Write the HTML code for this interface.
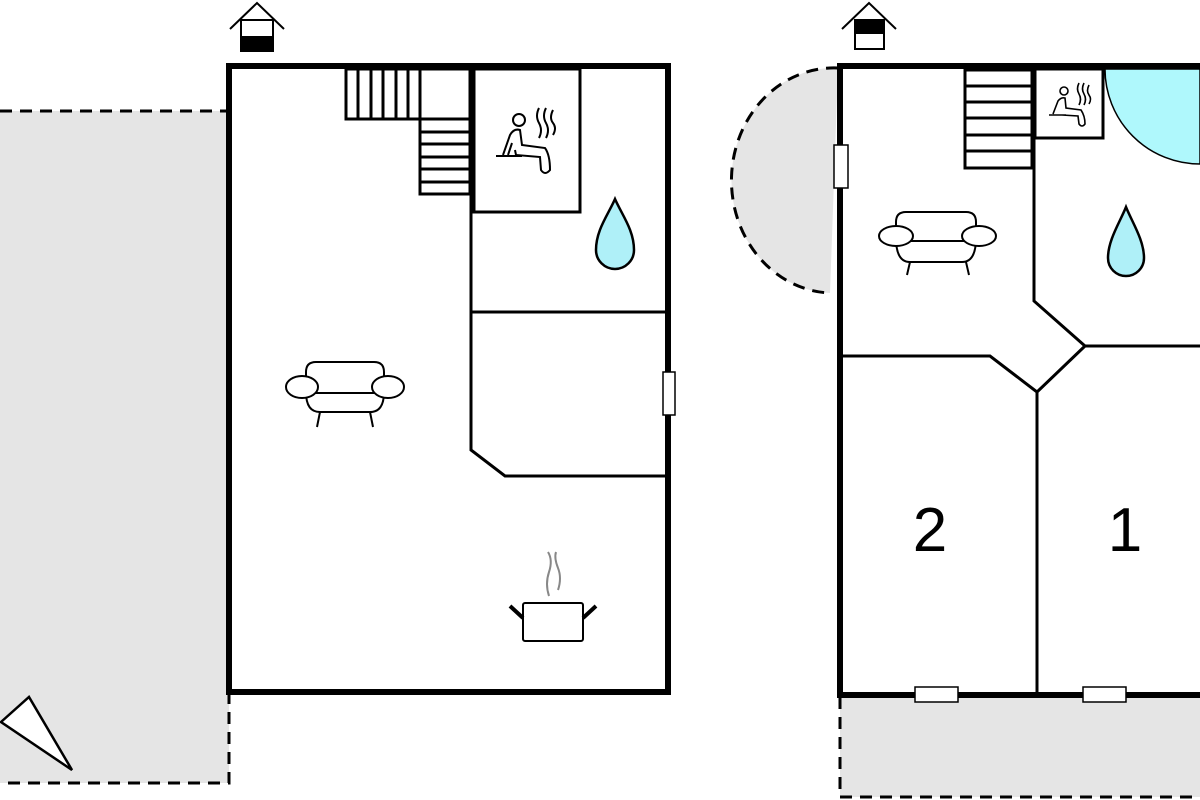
<!DOCTYPE html>
<html><head><style>body{margin:0;background:#fff}svg{display:block}</style></head><body>
<svg width="1200" height="800" viewBox="0 0 1200 800" xmlns="http://www.w3.org/2000/svg" font-family="Liberation Sans, sans-serif">
<rect x="0" y="111" width="229" height="672" fill="#e5e5e5"/>
<path d="M0 111H229M229 692V783H0" fill="none" stroke="#000" stroke-width="3" stroke-dasharray="12 8"/>
<polygon points="1,722 29,697 72,770" fill="#fff" stroke="#000" stroke-width="2.5"/>
<rect x="229" y="66" width="439" height="626" fill="#fff" stroke="#000" stroke-width="6"/>
<g stroke="#000" stroke-width="3" fill="none">
<rect x="346" y="69" width="124" height="50"/>
<path d="M358 69V119M371 69V119M383 69V119M396 69V119M408 69V119M420 69V119"/>
<rect x="420" y="119" width="50" height="75"/>
<path d="M420 132H470M420 144H470M420 157H470M420 169H470M420 182H470"/>
<path d="M471 66V450L505 476H668M471 312H668"/>
<rect x="474" y="69" width="106" height="143"/>
</g>
<rect x="663" y="372" width="12" height="43" fill="#fff" stroke="#000" stroke-width="1.5"/>
<g stroke="#000" stroke-width="2" fill="none"><path d="M230 29L257 3L284 29"/><rect x="241" y="20" width="32" height="31"/></g>
<rect x="241" y="36" width="32" height="15" fill="#000"/>
<g stroke="#000" stroke-width="2" fill="none">
<circle cx="519" cy="120" r="6"/>
<path d="M503 155L510 135Q514 128 520 130L522 145L545 148Q550 155 550 170Q545 176 541 170L540 157L516 155L515 150M496 156H522M508 155L512 143"/>
<path d="M539 108q-4 8 0 15t0 15M546 108q-4 8 0 15t0 15M553 110q-4 8 0 13t0 12"/>
</g>
<path d="M615 199C608 215 596 230 596 250A19 19 0 0 0 634 250C634 230 622 215 615 199Z" fill="#aff0f8" stroke="#000" stroke-width="2.5"/>
<g stroke="#000" stroke-width="2" fill="#fff">
<path d="M306 392V372Q306 362 316 362H374Q384 362 384 372V392Q384 412 370 412H320Q306 412 306 392Z"/>
<path d="M305 393H385"/>
<ellipse cx="302" cy="387" rx="16" ry="11"/><ellipse cx="388" cy="387" rx="16" ry="11"/>
<path d="M320 412L317 427M370 412L373 427"/>
</g>
<g stroke="#000" stroke-width="2" fill="#fff">
<rect x="523" y="603" width="60" height="38" rx="2"/>
<path d="M523 618L510 606M583 618L596 606" stroke-width="4"/>
</g>
<path d="M549 596q-4-12 0-24t-1-20M558 590q4-12 0-22t-2-16" stroke="#888" stroke-width="2" fill="none"/>
<path d="M838 68A102 112 0 0 0 830 293Z" fill="#e5e5e5"/>
<path d="M838 68A102 112 0 0 0 830 293" fill="none" stroke="#000" stroke-width="3" stroke-dasharray="12 8"/>
<rect x="840" y="697" width="360" height="100" fill="#e5e5e5"/>
<path d="M840 697V797H1200" fill="none" stroke="#000" stroke-width="3" stroke-dasharray="12 8"/>
<path d="M1105 69A95 95 0 0 0 1200 164V69Z" fill="#aff8fc" stroke="#000" stroke-width="1.5"/>
<path d="M840 66H1200M840 63V695H1200" fill="none" stroke="#000" stroke-width="6"/>
<g stroke="#000" stroke-width="3" fill="none">
<rect x="965" y="70" width="67" height="98"/>
<path d="M965 86H1032M965 102H1032M965 118H1032M965 135H1032M965 151H1032"/>
<path d="M1034 66V301L1085 346H1200M840 356H990L1037 392L1085 346M1037 392V692"/>
<rect x="1035" y="69" width="68" height="69"/>
</g>
<rect x="834" y="145" width="14" height="43" fill="#fff" stroke="#000" stroke-width="1.5"/>
<rect x="915" y="687" width="43" height="15" fill="#fff" stroke="#000" stroke-width="1.5"/>
<rect x="1083" y="687" width="43" height="15" fill="#fff" stroke="#000" stroke-width="1.5"/>
<g stroke="#000" stroke-width="2" fill="none"><path d="M842 29L869 3L896 29"/><rect x="855" y="20" width="29" height="29"/></g>
<rect x="855" y="20" width="29" height="14" fill="#000"/>
<g stroke="#000" stroke-width="1.6" fill="none">
<circle cx="1064" cy="91" r="4"/>
<path d="M1053 114L1058 101Q1061 97 1065 98L1066 108L1081 110Q1085 116 1085 124Q1082 128 1079 124L1078 116L1062 115M1049 115H1066"/>
<path d="M1079 83q-3 6 0 11t0 11M1084 83q-3 6 0 11t0 11M1089 85q-3 6 0 10t0 9"/>
</g>
<path d="M1126 207C1120 222 1108 240 1108 258A18 18 0 0 0 1144 258C1144 240 1132 222 1126 207Z" fill="#aff0f8" stroke="#000" stroke-width="2.5"/>
<g stroke="#000" stroke-width="2" fill="#fff">
<path d="M896 238V222Q896 212 906 212H966Q976 212 976 222V238Q976 262 962 262H910Q896 262 896 238Z"/>
<path d="M895 241H977"/>
<ellipse cx="896" cy="236" rx="17" ry="10"/><ellipse cx="979" cy="236" rx="17" ry="10"/>
<path d="M910 262L907 275M966 262L969 275"/>
</g>
<text x="930" y="551" font-size="62" text-anchor="middle">2</text>
<text x="1125" y="551" font-size="62" text-anchor="middle">1</text>
</svg>
</body></html>
